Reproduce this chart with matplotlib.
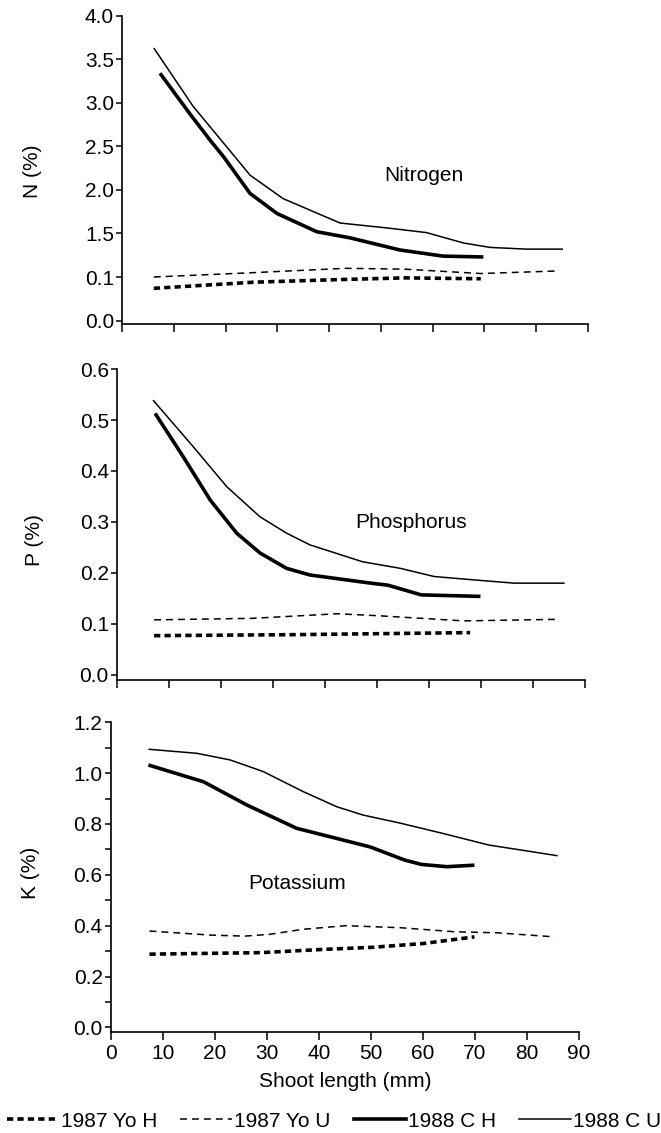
import matplotlib
matplotlib.use('Agg')
import matplotlib.pyplot as plt
from matplotlib.lines import Line2D

plt.rcParams['font.family'] = ['Liberation Sans', 'DejaVu Sans']
plt.rcParams['lines.scale_dashes'] = False

# --- Nitrogen (N %) ---
n_cu_x = [6.1, 13.7, 20.4, 24.7, 31.1, 42.1, 51.7, 58.8, 66.0, 71.1, 78.2, 85.2]
n_cu_y = [3.63, 2.96, 2.48, 2.17, 1.90, 1.62, 1.56, 1.51, 1.39, 1.34, 1.32, 1.32]
n_ch_x = [7.3, 13.0, 17.0, 19.6, 24.7, 29.9, 37.6, 44.0, 53.7, 62.0, 69.8]
n_ch_y = [3.34, 2.88, 2.57, 2.38, 1.96, 1.73, 1.52, 1.45, 1.31, 1.24, 1.23]
n_yu_x = [6.1, 25.3, 43.2, 54.6, 69.3, 84.4]
n_yu_y = [1.00, 1.05, 1.10, 1.09, 1.04, 1.07]
n_yh_x = [6.1, 25.3, 41.6, 54.6, 69.3]
n_yh_y = [0.87, 0.94, 0.97, 0.99, 0.98]
n_ticks = [0.5, 1.0, 1.5, 2.0, 2.5, 3.0, 3.5, 4.0]
n_ticklabels = ['0.0', '0.1', '1.5', '2.0', '2.5', '3.0', '3.5', '4.0']

# --- Phosphorus (P %) ---
p_cu_x = [6.9, 14.6, 21.1, 27.5, 32.6, 37.1, 47.2, 54.5, 61.0, 69.1, 76.4, 86.1]
p_cu_y = [0.539, 0.448, 0.369, 0.310, 0.278, 0.255, 0.222, 0.209, 0.193, 0.186, 0.180, 0.180]
p_ch_x = [7.3, 12.7, 17.9, 23.0, 27.5, 32.6, 37.1, 48.8, 52.1, 58.5, 69.9]
p_ch_y = [0.513, 0.428, 0.343, 0.278, 0.239, 0.209, 0.196, 0.180, 0.176, 0.157, 0.154]
p_yu_x = [7.1, 26.1, 42.3, 50.4, 66.7, 84.5]
p_yu_y = [0.108, 0.111, 0.120, 0.116, 0.106, 0.109]
p_yh_x = [7.1, 34.2, 67.9]
p_yh_y = [0.077, 0.079, 0.083]

# --- Potassium (K %) ---
k_cu_x = [7.2, 16.5, 22.9, 29.3, 37.0, 43.4, 48.5, 55.7, 63.8, 72.7, 80.0, 85.9]
k_cu_y = [1.094, 1.078, 1.052, 1.006, 0.927, 0.868, 0.835, 0.803, 0.763, 0.717, 0.694, 0.675]
k_ch_x = [7.2, 17.8, 26.1, 35.7, 42.1, 49.8, 56.5, 59.7, 64.6, 69.9]
k_ch_y = [1.032, 0.966, 0.875, 0.783, 0.750, 0.710, 0.658, 0.641, 0.632, 0.638]
k_yu_x = [7.4, 19.2, 25.7, 30.5, 37.0, 45.1, 55.7, 66.2, 74.3, 85.3]
k_yu_y = [0.379, 0.363, 0.359, 0.366, 0.386, 0.400, 0.392, 0.376, 0.372, 0.356]
k_yh_x = [7.4, 28.9, 41.1, 50.3, 60.1, 69.9]
k_yh_y = [0.288, 0.294, 0.307, 0.315, 0.330, 0.356]

x_ticks = [0, 10, 20, 30, 40, 50, 60, 70, 80, 90]
series_names = ['1987 Yo H', '1987 Yo U', '1988 C H', '1988 C U']

# line styles for the four series
styles = {
    '1987 Yo H': dict(color='black', lw=2.6, linestyle=(0, (4.5, 3.0))),
    '1987 Yo U': dict(color='black', lw=1.1, linestyle=(0, (5.0, 3.6))),
    '1988 C H': dict(color='black', lw=2.6, linestyle='-'),
    '1988 C U': dict(color='black', lw=1.1, linestyle='-'),
}

fs = 15

fig = plt.figure(figsize=(6.61, 11.33), dpi=100)
ax_n = fig.add_axes([0.1849, 0.714, 0.7045, 0.2721])
ax_p = fig.add_axes([0.1773, 0.3998, 0.7076, 0.2745])
ax_k = fig.add_axes([0.1679, 0.0894, 0.7080, 0.2731])


def style_axis(ax):
    for s in ['top', 'right']:
        ax.spines[s].set_visible(False)
    ax.spines['left'].set_linewidth(1.2)
    ax.spines['bottom'].set_linewidth(1.2)
    ax.set_xlim(0, 90)
    ax.set_xticks(x_ticks)
    ax.tick_params(axis='y', direction='out', length=4, width=1.1, labelsize=fs, pad=2)
    ax.tick_params(axis='x', direction='out', length=6, width=1.1, labelsize=fs, pad=3)


def draw(ax, data):
    for name, (xs, ys) in zip(series_names, data):
        ax.plot(xs, ys, solid_capstyle='butt', dash_capstyle='butt',
                solid_joinstyle='round', **styles[name])


# Nitrogen
draw(ax_n, [(n_yh_x, n_yh_y), (n_yu_x, n_yu_y), (n_ch_x, n_ch_y), (n_cu_x, n_cu_y)])
style_axis(ax_n)
ax_n.set_ylim(0.46, 4.0)
ax_n.set_yticks(n_ticks)
ax_n.set_yticklabels(n_ticklabels)
ax_n.set_xticklabels([])
ax_n.set_ylabel('N (%)', fontsize=fs)
ax_n.yaxis.set_label_coords(-0.173, 0.494)
ax_n.text(58.3, 2.17, 'Nitrogen', fontsize=fs, ha='center', va='center')

# Phosphorus
draw(ax_p, [(p_yh_x, p_yh_y), (p_yu_x, p_yu_y), (p_ch_x, p_ch_y), (p_cu_x, p_cu_y)])
style_axis(ax_p)
ax_p.set_ylim(-0.01, 0.6)
ax_p.set_yticks([0.0, 0.1, 0.2, 0.3, 0.4, 0.5, 0.6])
ax_p.set_yticklabels(['0.0', '0.1', '0.2', '0.3', '0.4', '0.5', '0.6'])
ax_p.set_xticklabels([])
ax_p.set_ylabel('P (%)', fontsize=fs)
ax_p.yaxis.set_label_coords(-0.156, 0.45)
ax_p.text(56.5, 0.299, 'Phosphorus', fontsize=fs, ha='center', va='center')

# Potassium
draw(ax_k, [(k_yh_x, k_yh_y), (k_yu_x, k_yu_y), (k_ch_x, k_ch_y), (k_cu_x, k_cu_y)])
style_axis(ax_k)
ax_k.set_ylim(-0.017, 1.2)
ax_k.set_yticks([0.0, 0.2, 0.4, 0.6, 0.8, 1.0, 1.2])
ax_k.set_yticklabels(['0.0', '0.2', '0.4', '0.6', '0.8', '1.0', '1.2'])
ax_k.set_yticks([0.1, 0.3, 0.5, 0.7, 0.9, 1.1], minor=True)
ax_k.tick_params(axis='y', which='minor', direction='out', length=4, width=1.1)
ax_k.set_ylabel('K (%)', fontsize=fs)
ax_k.yaxis.set_label_coords(-0.152, 0.512)
ax_k.set_xlabel('Shoot length (mm)', fontsize=fs)
ax_k.xaxis.set_label_coords(0.501, -0.162)
ax_k.xaxis.label.set_va('center')
ax_k.text(35.8, 0.567, 'Potassium', fontsize=fs, ha='center', va='center')

handles = [Line2D([], [], **styles[n]) for n in series_names]
fig.legend(handles, series_names, loc='center right', bbox_to_anchor=(1.0, 0.0105),
           ncol=4, frameon=False, fontsize=fs, handlelength=2.5, handletextpad=0.1,
           columnspacing=1.1, borderpad=0.0, borderaxespad=0.0)

fig.savefig('out.png', dpi=100)
